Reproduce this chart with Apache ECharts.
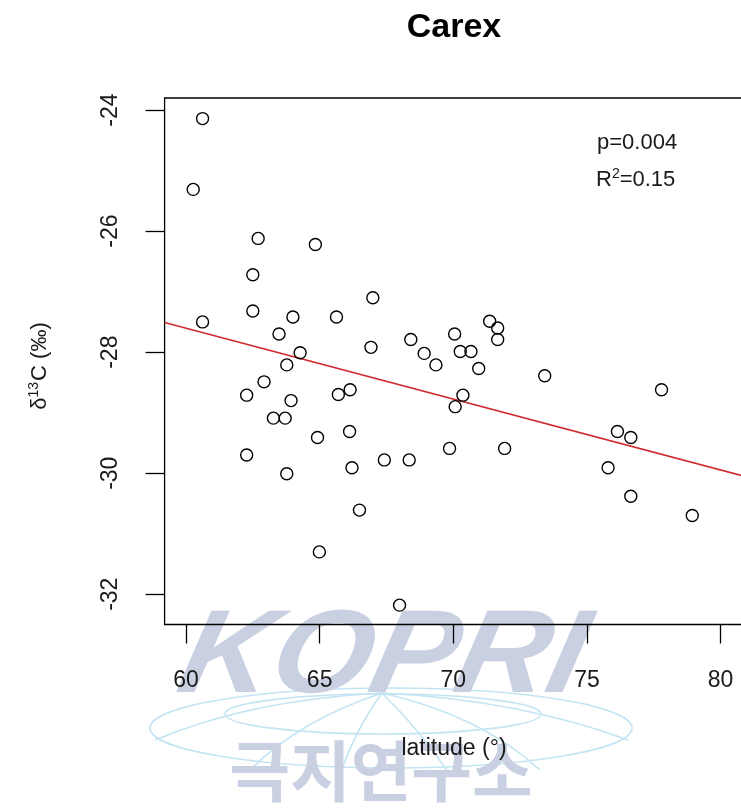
<!DOCTYPE html>
<html>
<head>
<meta charset="utf-8">
<title>Carex</title>
<script src="https://cdn.jsdelivr.net/npm/echarts@6/dist/echarts.min.js"></script>
<style>
  html, body { margin: 0; padding: 0; background: #fff; }
  #chart { width: 741px; height: 810px; }
</style>
</head>
<body>
<div id="chart"></div>
<script>
  // values
  var latitude = [
    60.62, 60.27, 62.70, 64.84, 62.50, 66.99, 62.50, 64.00, 65.63, 60.62,
    63.48, 68.41, 66.92, 64.27, 68.91, 69.35, 70.05, 70.26, 70.66, 71.36,
    71.66, 71.66, 70.95, 63.77, 70.36, 70.07, 62.92, 62.27, 63.93, 65.70,
    66.14, 63.27, 63.71, 64.92, 66.12, 62.27, 63.77, 66.21, 67.42, 68.35,
    69.86, 66.49, 64.99, 67.99, 73.42, 77.79, 71.92, 76.14, 76.64, 75.79,
    76.64, 78.94
  ];
  var d13C = [
    -24.14, -25.31, -26.12, -26.22, -26.72, -27.10, -27.32, -27.42, -27.42, -27.50,
    -27.70, -27.79, -27.92, -28.01, -28.02, -28.21, -27.70, -27.99, -27.99, -27.49,
    -27.60, -27.79, -28.27, -28.21, -28.71, -28.90, -28.49, -28.71, -28.80, -28.70,
    -28.62, -29.09, -29.09, -29.41, -29.31, -29.70, -30.01, -29.91, -29.78, -29.78,
    -29.59, -30.61, -31.30, -32.18, -28.39, -28.62, -29.59, -29.31, -29.41, -29.91,
    -30.38, -30.70
  ];
  // regression line ends
  var fitLatitude = [59.2, 80.8];
  var fitD13C = [-27.51, -30.04];

  var xTicks = [60, 65, 70, 75, 80];
  var yTicks = [-32, -30, -28, -26, -24];

  var points = latitude.map(function (x, i) { return [x, d13C[i]]; });
  var fitLine = fitLatitude.map(function (x, i) { return [x, fitD13C[i]]; });

  var font = 'Liberation Sans, Arial, sans-serif';
  var wmBlue = '#c9d0e2';
  var globe = '#c3e4f3';

  var chart = echarts.init(document.getElementById('chart'));
  var option = {
    animation: false,
    backgroundColor: '#fff',
    grid: {
      left: 164.6,
      top: 98,
      right: -1,
      bottom: 185.5,
      show: true,
      borderColor: '#000',
      borderWidth: 1.3,
      backgroundColor: 'transparent',
      outerBoundsMode: 'none'
    },
    xAxis: {
      type: 'value',
      min: 59.2,
      max: 80.8,
      axisLine: { show: false },
      splitLine: { show: false },
      axisTick: {
        show: true,
        length: 19,
        customValues: xTicks,
        lineStyle: { color: '#000', width: 1.3 }
      },
      axisLabel: {
        customValues: xTicks,
        margin: 45,
        fontSize: 23,
        color: '#1a1a1a',
        fontFamily: font
      }
    },
    yAxis: {
      type: 'value',
      min: -32.5,
      max: -23.8,
      axisLine: { show: false },
      splitLine: { show: false },
      axisTick: {
        show: true,
        length: 19,
        customValues: yTicks,
        lineStyle: { color: '#000', width: 1.3 }
      },
      axisLabel: {
        customValues: yTicks,
        rotate: 90,
        margin: 42,
        fontSize: 23,
        color: '#1a1a1a',
        fontFamily: font
      }
    },
    graphic: [
      // watermark (behind the chart)
      { type: 'ellipse', z: -5, silent: true, shape: { cx: 391, cy: 728, rx: 241, ry: 40 },
        style: { fill: 'none', stroke: globe, lineWidth: 1.6 } },
      { type: 'ellipse', z: -5, silent: true, shape: { cx: 383, cy: 714, rx: 158, ry: 20 },
        style: { fill: 'none', stroke: globe, lineWidth: 1.6 } },
      { type: 'bezierCurve', z: -5, silent: true, shape: { x1: 382, y1: 693, x2: 155, y2: 740, cpx1: 250, cpy1: 700 },
        style: { fill: 'none', stroke: globe, lineWidth: 1.6 } },
      { type: 'bezierCurve', z: -5, silent: true, shape: { x1: 382, y1: 693, x2: 250, y2: 770, cpx1: 300, cpy1: 720 },
        style: { fill: 'none', stroke: globe, lineWidth: 1.6 } },
      { type: 'bezierCurve', z: -5, silent: true, shape: { x1: 382, y1: 693, x2: 340, y2: 775, cpx1: 355, cpy1: 730 },
        style: { fill: 'none', stroke: globe, lineWidth: 1.6 } },
      { type: 'bezierCurve', z: -5, silent: true, shape: { x1: 382, y1: 693, x2: 450, y2: 775, cpx1: 420, cpy1: 730 },
        style: { fill: 'none', stroke: globe, lineWidth: 1.6 } },
      { type: 'bezierCurve', z: -5, silent: true, shape: { x1: 382, y1: 693, x2: 540, y2: 770, cpx1: 480, cpy1: 715 },
        style: { fill: 'none', stroke: globe, lineWidth: 1.6 } },
      { type: 'bezierCurve', z: -5, silent: true, shape: { x1: 382, y1: 693, x2: 628, y2: 740, cpx1: 520, cpy1: 700 },
        style: { fill: 'none', stroke: globe, lineWidth: 1.6 } },
      { type: 'text', z: -4, silent: true, x: 383, y: 659, scaleX: 1.08, skewX: -0.22,
        style: { text: 'KOPRI', fill: wmBlue, fontSize: 118, fontWeight: 900, fontStyle: 'italic',
          fontFamily: font, align: 'center', verticalAlign: 'middle' } },
      { type: 'text', z: -4, silent: true, x: 381, y: 771,
        style: { text: '극지연구소', fill: wmBlue, fontSize: 66, fontWeight: 'bold',
          fontFamily: 'Noto Sans CJK KR', align: 'center', verticalAlign: 'middle' } },

      // title and labels
      { type: 'text', x: 454, y: 28,
        style: { text: 'Carex', fill: '#000', fontSize: 34, fontWeight: 'bold', fontFamily: font,
          align: 'center', verticalAlign: 'middle' } },
      { type: 'text', x: 454, y: 749,
        style: { text: 'latitude (°)', fill: '#1a1a1a', fontSize: 23, fontFamily: font,
          align: 'center', verticalAlign: 'middle' } },
      { type: 'text', x: 40, y: 366, rotation: Math.PI / 2,
        style: {
          text: '{m|δ}{s|13}{m|C (‰)}',
          align: 'center', verticalAlign: 'middle',
          rich: {
            m: { fontSize: 22, fontFamily: font, fill: '#1a1a1a', lineHeight: 26 },
            s: { fontSize: 14, fontFamily: font, fill: '#1a1a1a', lineHeight: 26, verticalAlign: 'top', padding: [0, 1, 10, 0] }
          }
        } },
      { type: 'text', x: 597, y: 143,
        style: { text: 'p=0.004', fill: '#1a1a1a', fontSize: 22, fontFamily: font,
          align: 'left', verticalAlign: 'middle' } },
      { type: 'text', x: 596, y: 180,
        style: {
          text: '{m|R}{s|2}{m|=0.15}',
          align: 'left', verticalAlign: 'middle',
          rich: {
            m: { fontSize: 22, fontFamily: font, fill: '#1a1a1a', lineHeight: 26 },
            s: { fontSize: 14, fontFamily: font, fill: '#1a1a1a', lineHeight: 26, verticalAlign: 'top', padding: [0, 0, 10, 0] }
          }
        } }
    ],
    series: [
      {
        type: 'line',
        data: fitLine,
        showSymbol: false,
        silent: true,
        z: 2,
        lineStyle: { color: '#d02a2f', width: 1.5 }
      },
      {
        type: 'scatter',
        data: points,
        symbol: 'circle',
        symbolSize: 12,
        z: 3,
        itemStyle: { color: 'rgba(0,0,0,0)', borderColor: '#000', borderWidth: 1.4, opacity: 1 }
      }
    ]
  };
  chart.setOption(option);
</script>
</body>
</html>
